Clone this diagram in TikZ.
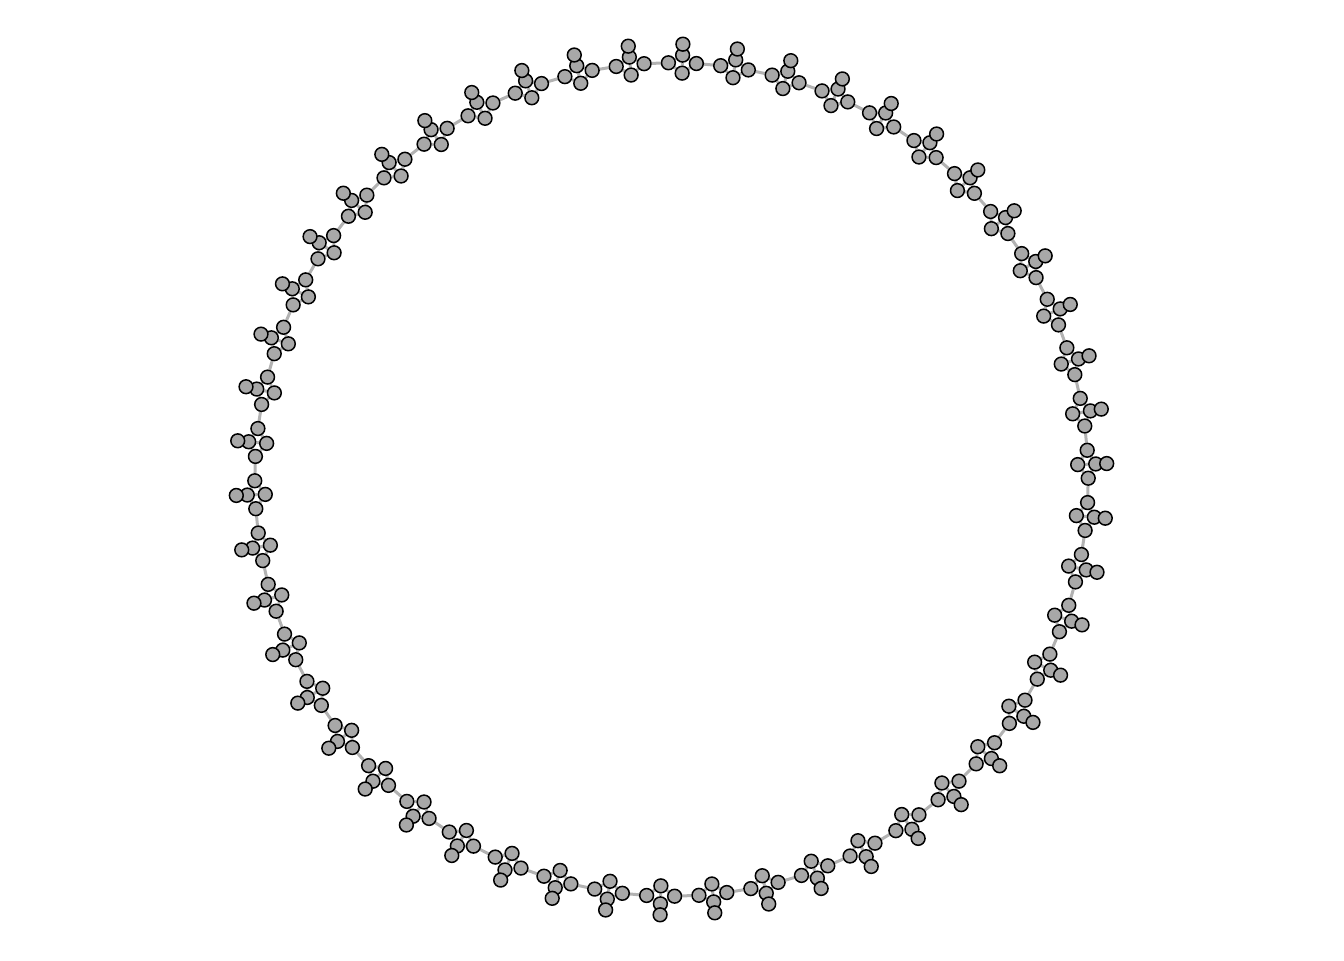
\documentclass[tikz,border=0pt]{standalone}
\usepackage{tikz}
\definecolor{nodegray}{RGB}{168,168,168}
\definecolor{edgegray}{RGB}{178,178,178}
\pgfdeclarelayer{edges}
\pgfsetlayers{edges,main}

\begin{document}
\begin{tikzpicture}[x=0.5pt,y=0.5pt,
  vtx/.style={circle,draw=black,fill=nodegray,line width=0.75pt,inner sep=0pt,minimum size=6.9pt},
  lnk/.style={draw=edgegray,line width=1.5pt}]
\useasboundingbox (0,0) rectangle (1344,960);
% one cluster of five vertices per step round the ring
\foreach \k in {0,...,49}{
  \pgfmathsetmacro\ang{2.1+7.2*\k}
  \begin{scope}[shift={(671.5,480.5)},rotate=\ang-90,shift={(0,416.5)}]
    \node[vtx] (a\k) at (-14,0) {};
    \node[vtx] (b\k) at (14,0) {};
    \node[vtx] (c\k) at (0,8) {};
    \node[vtx] (d\k) at (0,-10) {};
    \node[vtx] (p\k) at (0,19) {};
  \end{scope}
}
\begin{pgfonlayer}{edges}
\foreach \k in {0,...,49}{
  \pgfmathtruncatemacro\nxt{mod(\k+1,50)}
  \draw[lnk] (a\k) -- (c\k) -- (b\k) -- (d\k) -- (a\k);
  \draw[lnk] (c\k) -- (d\k);
  \draw[lnk] (c\k) -- (p\k);
  \draw[lnk] (a\k) -- (b\nxt);
}
\end{pgfonlayer}
\end{tikzpicture}
\end{document}
